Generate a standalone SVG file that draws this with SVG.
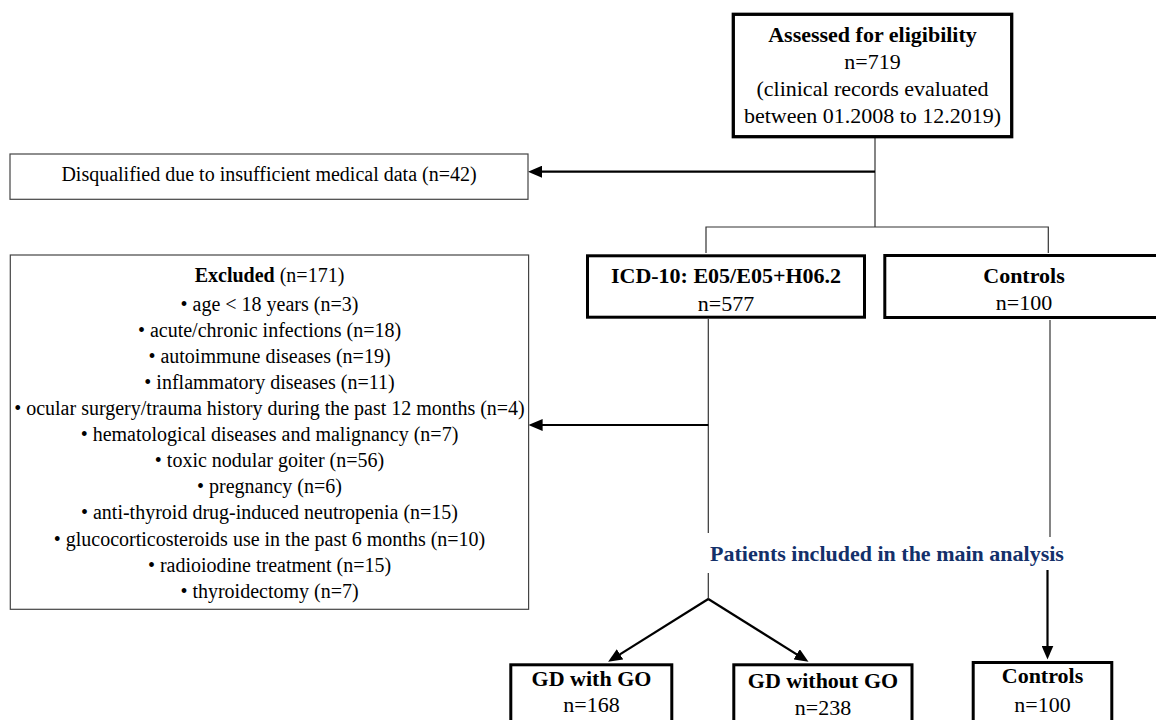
<svg xmlns="http://www.w3.org/2000/svg" width="1156" height="720" viewBox="0 0 1156 720">
<style>
text{font-family:"Liberation Serif","Times New Roman",serif;fill:#000;text-anchor:middle}
.b{font-weight:bold}
.t22{font-size:22px}
.t20{font-size:20px}
.thick{fill:#fff;stroke:#000;stroke-width:3}
.thin{fill:#fff;stroke:#444;stroke-width:1.2}
.ln{stroke:#333;stroke-width:1.2;fill:none}
.ar{stroke:#000;stroke-width:2.2;fill:none;marker-end:url(#ah)}
.lbl{fill:#13306a;font-weight:bold;font-size:22px;text-anchor:start}
</style>
<defs>
<marker id="ah" viewBox="0 0 14 12" refX="10" refY="6" markerWidth="14" markerHeight="12" markerUnits="userSpaceOnUse" orient="auto">
<path d="M0,0 L14,6 L0,12 z" fill="#000"/>
</marker>
</defs>
<rect width="1156" height="720" fill="#fff"/>
<g id="connectors">
<path class="ln" d="M875,138 V227"/>
<path class="ln" d="M706,253 V227 H1048.3 V253"/>
<path class="ar" d="M875,171.7 H532"/>
<path class="ln" d="M708.3,319 V533"/>
<path class="ar" d="M708.3,425 H532.6"/>
<path class="ln" d="M1050,320 V537"/>
<path class="ln" d="M708.3,573 V599"/>
<path class="ar" d="M708.3,599 L611.5,659.6"/>
<path class="ar" d="M708.3,599 L805.1,659.6"/>
<path class="ar" d="M1047.5,570 V655.5"/>
</g>
<g id="assessed">
<rect class="thick" x="733.3" y="14.3" width="278.4" height="122.4" style="stroke-width:3.3"/>
<text class="t22 b" x="872.5" y="42">Assessed for eligibility</text>
<text class="t22" x="872.5" y="68.5">n=719</text>
<text class="t22" x="872.5" y="96">(clinical records evaluated</text>
<text class="t22" x="872.5" y="123">between 01.2008 to 12.2019)</text>
</g>
<g id="disqualified">
<rect class="thin" x="10" y="154" width="518" height="45.3"/>
<text class="t20" x="269" y="181">Disqualified due to insufficient medical data (n=42)</text>
</g>
<g id="excluded">
<rect class="thin" x="10.3" y="255" width="518.3" height="354.3"/>
<text class="t20" x="269.5" y="282"><tspan class="b">Excluded</tspan> (n=171)</text>
<text class="t20" x="269.5" y="311">• age &lt; 18 years (n=3)</text>
<text class="t20" x="269.5" y="337">• acute/chronic infections (n=18)</text>
<text class="t20" x="269.5" y="363">• autoimmune diseases (n=19)</text>
<text class="t20" x="269.5" y="389">• inflammatory diseases (n=11)</text>
<text class="t20" x="269.5" y="415">• ocular surgery/trauma history during the past 12 months (n=4)</text>
<text class="t20" x="269.5" y="441">• hematological diseases and malignancy (n=7)</text>
<text class="t20" x="269.5" y="467">• toxic nodular goiter (n=56)</text>
<text class="t20" x="269.5" y="493">• pregnancy (n=6)</text>
<text class="t20" x="269.5" y="519">• anti-thyroid drug-induced neutropenia (n=15)</text>
<text class="t20" x="269.5" y="545.5">• glucocorticosteroids use in the past 6 months (n=10)</text>
<text class="t20" x="269.5" y="571.5">• radioiodine treatment (n=15)</text>
<text class="t20" x="269.5" y="597.5">• thyroidectomy (n=7)</text>
</g>
<g id="icd">
<rect class="thick" x="587.5" y="255.8" width="277" height="61.4"/>
<text class="t22 b" x="726" y="283.3">ICD-10: E05/E05+H06.2</text>
<text class="t22" x="726" y="310.7">n=577</text>
</g>
<g id="controls1">
<rect class="thick" x="884.8" y="255.5" width="280" height="62"/>
<text class="t22 b" x="1024" y="283.3">Controls</text>
<text class="t22" x="1024" y="310">n=100</text>
</g>
<g id="label">
<text class="lbl" x="710" y="561">Patients included in the main analysis</text>
</g>
<g id="gdwithgo">
<rect class="thick" x="510.8" y="664.8" width="161" height="70"/>
<text class="t22 b" x="591.5" y="686">GD with GO</text>
<text class="t22" x="591.5" y="711.7">n=168</text>
</g>
<g id="gdwithoutgo">
<rect class="thick" x="733.8" y="664.8" width="178.2" height="70"/>
<text class="t22 b" x="823" y="688.3">GD without GO</text>
<text class="t22" x="823" y="715">n=238</text>
</g>
<g id="controls2">
<rect class="thick" x="973.2" y="662.5" width="138.6" height="70"/>
<text class="t22 b" x="1042.5" y="682.7">Controls</text>
<text class="t22" x="1042.5" y="711.7">n=100</text>
</g>
</svg>
